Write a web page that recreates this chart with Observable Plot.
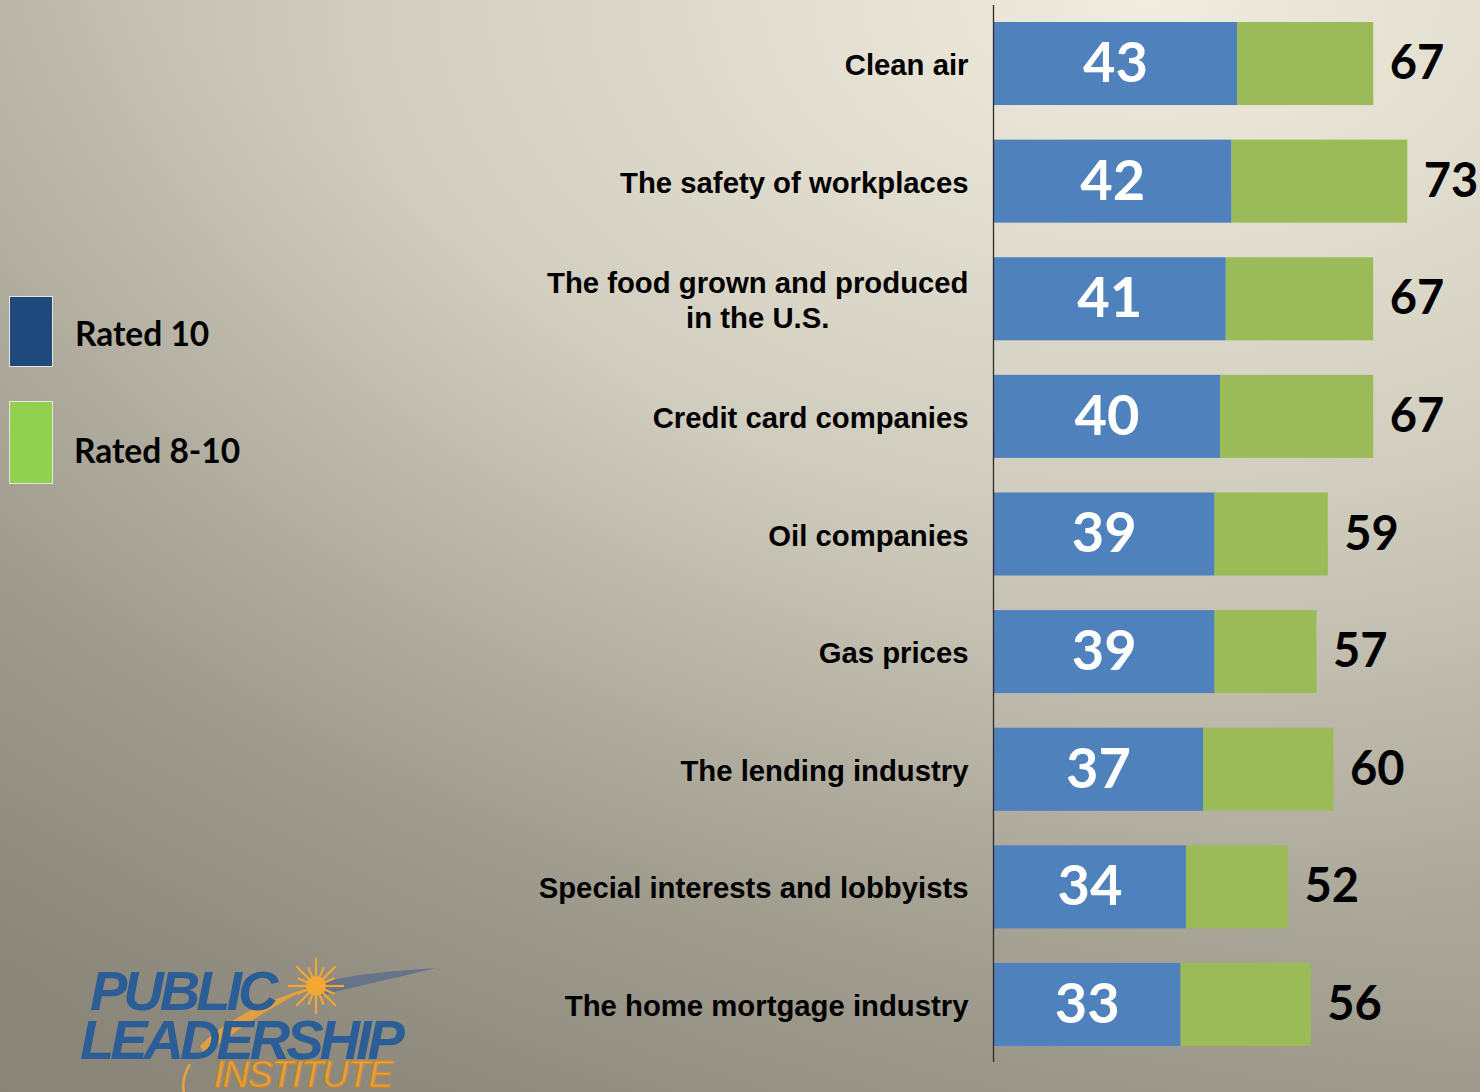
<!DOCTYPE html>
<html>
<head>
<meta charset="utf-8">
<script src="https://cdn.jsdelivr.net/npm/d3@7"></script>
<script src="https://cdn.jsdelivr.net/npm/@observablehq/plot@0.6"></script>
<style>
  html, body { margin: 0; padding: 0; }
  body {
    width: 1480px; height: 1092px; overflow: hidden; position: relative;
    background:
      linear-gradient(to top right, rgba(70,66,56,0.22) 0%, rgba(70,66,56,0) 55%),
      radial-gradient(ellipse 1900px 1200px at 1150px 0px, #F1EDDE 0%, #D0CCBE 42%, #AAA698 78%, #9B978A 100%);
  }
  #chart { position: absolute; left: 0; top: 0; }
  .legend-item { position: absolute; font-family: Lato, sans-serif; font-weight: bold; font-size: 33.5px; color: #000; }
  .swatch { position: absolute; width: 44px; box-sizing: border-box; border: 1.5px solid #E8E6DC; }
  .logo { position: absolute; font-family: "Liberation Sans", Arial, sans-serif; font-weight: bold; font-style: italic; line-height: 0.85; white-space: nowrap; }
</style>
</head>
<body>
<div id="chart"></div>
<div id="legend"></div>
<div id="logo"></div>
<script>
const categories = [
  "Clean air",
  "The safety of workplaces",
  "The food grown and produced\nin the U.S.",
  "Credit card companies",
  "Oil companies",
  "Gas prices",
  "The lending industry",
  "Special interests and lobbyists",
  "The home mortgage industry"
];
const rated10 = [43, 42, 41, 40, 39, 39, 37, 34, 33];
const rated8to10 = [67, 73, 67, 67, 59, 57, 60, 52, 56];
const seriesNames = ["Rated 10", "Rated 8-10"];
const barColors = ["#4F81BD", "#9BBB59"];
const legendColors = ["#1F497D", "#92D050"];

const data = categories.map((c, i) => ({category: c, r10: rated10[i], r810: rated8to10[i]}));

const chart = Plot.plot({
  width: 1480,
  height: 1092,
  marginLeft: 993,
  marginRight: 33,
  marginTop: 0,
  marginBottom: 24,
  style: {background: "transparent", overflow: "visible"},
  x: {domain: [0, 80], axis: null},
  y: {domain: categories, axis: null, paddingInner: 0.294, paddingOuter: 0.187, round: false},
  marks: [
    Plot.barX(data, {y: "category", x1: "r10", x2: "r810", fill: barColors[1]}),
    Plot.barX(data, {y: "category", x1: 0, x2: "r10", fill: barColors[0]}),
    Plot.ruleX([0], {stroke: "#2b2b2b", strokeWidth: 1.3, insetTop: 5, insetBottom: 6}),
    Plot.text(data, {
      y: "category", x: d => d.r10 / 2, text: d => String(d.r10),
      fill: "white", fontSize: 56, fontWeight: "bold", fontFamily: "Lato, sans-serif"
    }),
    Plot.text(data, {
      y: "category", x: "r810", text: d => String(d.r810), textAnchor: "start", dx: 16,
      fill: "black", fontSize: 47, fontWeight: "bold", fontFamily: "Lato, sans-serif"
    }),
    Plot.text(data, {
      y: "category", x: 0, text: "category", textAnchor: "end", dx: -25, lineHeight: 1.18,
      fill: "black", fontSize: 29.3, fontWeight: "bold", fontFamily: "Liberation Sans, Arial, sans-serif"
    })
  ]
});
document.getElementById("chart").appendChild(chart);

// centre the lines of multi-line category labels within their right-aligned block
chart.querySelectorAll("text").forEach(function (el) {
  const tspans = el.querySelectorAll("tspan");
  if (tspans.length < 2) return;
  const b1 = el.getBBox();
  const right = b1.x + b1.width;
  el.setAttribute("text-anchor", "middle");
  el.style.textAnchor = "middle";
  tspans.forEach(t => { t.setAttribute("text-anchor", "middle"); });
  const b2 = el.getBBox();
  const shift = right - (b2.x + b2.width);
  const t = el.getAttribute("transform") || "";
  el.setAttribute("transform", t + ` translate(${shift},0)`);
});

// legend
const legend = document.getElementById("legend");
const legendTops = [296, 401];
const legendHeights = [71, 83];
const legendTextTops = [313, 430];
seriesNames.forEach((name, i) => {
  const sw = document.createElement("div");
  sw.className = "swatch";
  sw.style.left = "9px";
  sw.style.top = legendTops[i] + "px";
  sw.style.height = legendHeights[i] + "px";
  sw.style.background = legendColors[i];
  legend.appendChild(sw);
  const tx = document.createElement("div");
  tx.className = "legend-item";
  tx.style.left = (i === 0 ? 75 : 74) + "px";
  tx.style.top = legendTextTops[i] + "px";
  tx.textContent = name;
  legend.appendChild(tx);
});

// logo
const logo = document.getElementById("logo");
logo.innerHTML = `
<svg width="460" height="140" style="position:absolute;left:0;top:952px" viewBox="0 952 460 140">
  <path d="M303,989 C340,975 380,972 436,968 C400,977 360,985 320,996 Z" fill="#5E6F8C" opacity="0.85"/>
  <path d="M200,1046 C215,1030 240,1015 262,1005 C280,997 295,992 308,988 C290,998 268,1010 250,1022 C232,1034 215,1046 205,1056 Z" fill="#E9A23B" opacity="0.9"/>
  <path d="M190,1064 C184,1074 182,1084 184,1092" stroke="#E9A23B" stroke-width="2.5" fill="none"/>
  <g stroke="#F2A531" stroke-width="2.2">
    ${d3.range(16).map(k => { const a = k * Math.PI / 8; const r1 = 9, r2 = (k % 2 ? 20 : 28);
      return `<line x1="${316 + r1*Math.cos(a)}" y1="${986 + r1*Math.sin(a)}" x2="${316 + r2*Math.cos(a)}" y2="${986 + r2*Math.sin(a)}"/>`; }).join("")}
  </g>
  <circle cx="316" cy="986" r="10" fill="#F4A834"/>
</svg>
<div class="logo" style="left:90px;top:967px;font-size:56px;letter-spacing:-4px;color:#2B5D97;">PUBLIC</div>
<div class="logo" style="left:80px;top:1016px;font-size:56px;letter-spacing:-4px;color:#2B5D97;">LEADERSHIP</div>
<div class="logo" style="left:214px;top:1059px;font-size:37px;letter-spacing:-1.5px;color:#E9A23B;font-weight:normal;-webkit-text-stroke:1px #D58A22;">INSTITUTE</div>
`;
</script>
</body>
</html>
